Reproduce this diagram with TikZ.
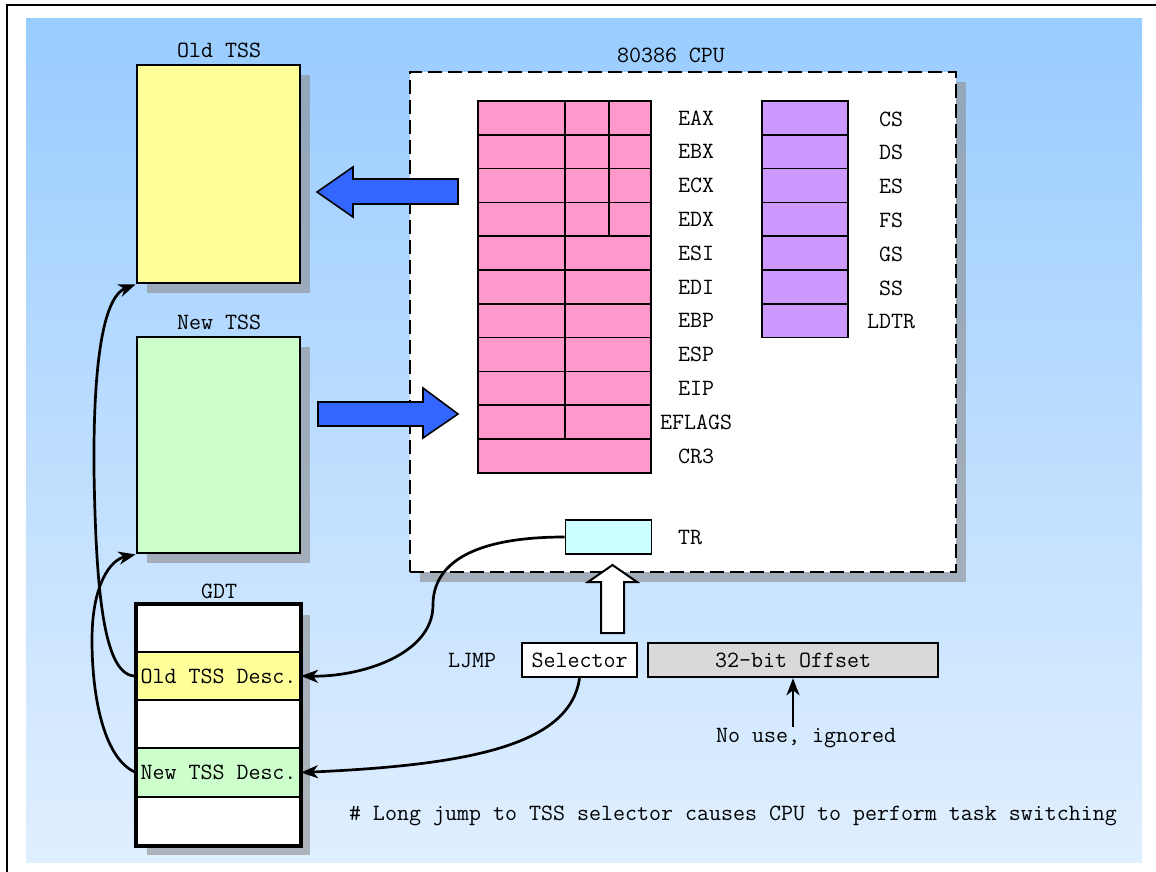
\documentclass[tikz,border=0pt]{standalone}
\usepackage{fontspec}
\usetikzlibrary{arrows.meta,shadows}
\definecolor{bgtop}{HTML}{99CCFF}
\definecolor{bgbot}{HTML}{E0EFFF}
\definecolor{tssold}{HTML}{FFFF99}
\definecolor{tssnew}{HTML}{CCFFCC}
\definecolor{gpr}{HTML}{FF99CC}
\definecolor{seg}{HTML}{CC99FF}
\definecolor{trc}{HTML}{CCFFFF}
\definecolor{offc}{HTML}{D9D9D9}
\definecolor{blk}{HTML}{3366FF}

\begin{document}
\begin{tikzpicture}[
  x=1pt, y=-1pt,
  font=\ttfamily\fontsize{23.3}{26}\selectfont,
  shadowed/.style={drop shadow={shadow xshift=10pt, shadow yshift=-10pt, fill=black!45, opacity=0.6}},
  tss/.style={draw, line width=2.8pt, minimum width=163pt, inner sep=0pt, shadowed},
  desc/.style={draw, line width=2pt, minimum width=163pt, inner sep=0pt},
  reg/.style={draw, line width=1.6pt, inner sep=0pt, minimum height=33.8pt},
  field/.style={draw, line width=2.5pt, minimum height=34pt, inner sep=0pt},
  lbl/.style={inner sep=1pt},
  curve/.style={-{Stealth[length=17pt, width=13pt, inset=5pt]}, line width=2.7pt},
  bigarrow/.style={draw, line width=1.6pt, line join=miter},
]
  \path[use as bounding box, clip] (0,0) rectangle (1156,872);
  % --- frame and background ---
  \draw[line width=2.8pt] (7,5) rectangle (1180,900);
  \fill[top color=bgtop, bottom color=bgbot] (26,19) rectangle (1142,862);
  % --- task state segments ---
  \node[tss, fill=tssold, minimum height=218pt] (oldtss) at (218.5,174) {};
  \node[lbl] at (219,50) {Old TSS};
  \node[tss, fill=tssnew, minimum height=216pt] (newtss) at (218.5,445) {};
  \node[lbl] at (219,322) {New TSS};
  % --- GDT ---
  \node[tss, fill=white, minimum height=240pt] (gdt) at (218.5,725) {};
  \node[lbl] at (219,591) {GDT};
  \node[desc, fill=tssold, minimum height=48pt] (olddesc) at (218.5,676) {Old TSS Desc.};
  \node[desc, fill=tssnew, minimum height=49pt] (newdesc) at (218.5,772.5) {New TSS Desc.};
  \draw[line width=2.8pt] (gdt.north west) rectangle (gdt.south east);
  % --- CPU ---
  \node[draw, fill=white, line width=2pt, dash pattern=on 14pt off 6pt,
        minimum width=546pt, minimum height=500pt, shadowed] (cpu) at (683,322) {};
  \node[lbl] at (671,55) {80386 CPU};
  % general registers
  \foreach \r [count=\i from 0] in {EAX,EBX,ECX,EDX,ESI,EDI,EBP,ESP,EIP,EFLAGS,CR3} {
    \node[reg, fill=gpr, minimum width=173pt] (r\i) at (564.5,117.9+\i*33.8) {};
    \node[lbl] at (696,118+\i*33.8) {\r};
  }
  \draw[line width=1.6pt] (565,101) -- (565,439.2);
  \draw[line width=1.6pt] (609,101) -- (609,236.2);
  % segment registers
  \foreach \r [count=\i from 0] in {CS,DS,ES,FS,GS,SS,LDTR} {
    \node[reg, fill=seg, minimum width=86pt] (s\i) at (805,117.9+\i*33.8) {};
    \node[lbl] at (891,119+\i*33.8) {\r};
  }
  % task register
  \node[reg, fill=trc, minimum width=86pt, minimum height=34pt] (tr) at (608.5,537) {};
  \node[lbl] at (690,538) {TR};
  % --- save / load arrows ---
  \draw[bigarrow, fill=blk] (458,179) -- (353,179) -- (353,167) -- (317,192)
    -- (353,217) -- (353,204) -- (458,204) -- cycle;
  \draw[bigarrow, fill=blk] (318,402) -- (423,402) -- (423,388) -- (458,414)
    -- (423,438) -- (423,426) -- (318,426) -- cycle;
  % --- LJMP operand ---
  \node[lbl] at (472,661) {LJMP};
  \node[field, fill=white, minimum width=115pt] (sel) at (579.5,660) {Selector};
  \node[field, fill=offc, minimum width=290pt] (offset) at (793,660) {32-bit Offset};
  \draw[bigarrow, line width=2pt, fill=white] (601,633) -- (601,582) -- (588,582) -- (612.5,565)
    -- (637,582) -- (624,582) -- (624,633) -- cycle;
  \node[lbl] (nouse) at (806,738) {No use, ignored};
  \draw[curve] (offset.south |- nouse.north) -- (offset.south);
  % --- selector and descriptor links ---
  \draw[curve] (sel.south) .. controls (570,745) and (470,765) .. (newdesc.east);
  \draw[curve] (tr.west) .. controls (470,537) and (433,565) .. (433,605)
    .. controls (433,655) and (360,677) .. (olddesc.east);
  \draw[curve] (olddesc.west) .. controls (105,677) and (96,600) .. (94,470)
    .. controls (93,340) and (108,295) .. (oldtss.south west);
  \draw[curve] (newdesc.west) .. controls (105,760) and (92,700) .. (92,640)
    .. controls (92,585) and (110,560) .. (newtss.south west);
  % --- note ---
  \node[lbl] at (733,816) {\# Long jump to TSS selector causes CPU to perform task switching};
\end{tikzpicture}
\end{document}
